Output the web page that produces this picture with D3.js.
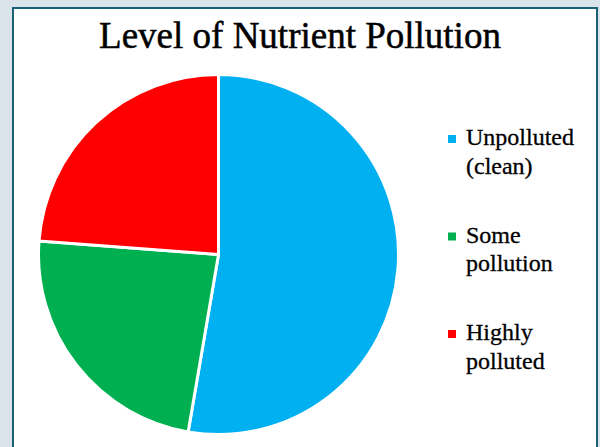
<!DOCTYPE html>
<html><head><meta charset="utf-8">
<script src="https://cdn.jsdelivr.net/npm/d3@7"></script>
<style>html,body{margin:0;padding:0;background:#dae4ea;}svg{display:block;}</style>
</head><body>
<script>
const categories = ["Unpolluted (clean)", "Some pollution", "Highly polluted"];
const legendLines = [["Unpolluted", "(clean)"], ["Some", "pollution"], ["Highly", "polluted"]];
const values = [52.7, 23.5, 23.8];
const colors = ["#00b0f0", "#00b050", "#ff0000"];
const title = "Level of Nutrient Pollution";

const W = 600, H = 447;
const svg = d3.select("body").append("svg").attr("width", W).attr("height", H);
svg.append("rect").attr("x", 0).attr("y", 0).attr("width", W).attr("height", H).attr("fill", "#dae4ea");
svg.append("rect").attr("x", 13).attr("y", 8).attr("width", 584).attr("height", 460)
  .attr("fill", "#ffffff").attr("stroke", "#1a6176").attr("stroke-width", 2);

svg.append("text").attr("x", 300).attr("y", 48).attr("text-anchor", "middle")
  .attr("font-family", "Liberation Serif, serif").attr("font-size", 37)
  .attr("fill", "#000").attr("stroke", "#000").attr("stroke-width", 0.5)
  .text(title);

const cx = 218.5, cy = 254.5, r = 180;
const pie = d3.pie().sort(null).value(d => d)(values);
const arc = d3.arc().innerRadius(0).outerRadius(r);
const g = svg.append("g").attr("transform", `translate(${cx},${cy})`);
g.selectAll("path").data(pie).join("path")
  .attr("d", arc).attr("fill", (d, i) => colors[i])
  .attr("stroke", "#fff").attr("stroke-width", 3).attr("stroke-linejoin", "round");

const legendY = d3.scalePoint().domain(categories).range([145, 340]);
const lg = svg.append("g");
categories.forEach((c, i) => {
  const y = legendY(c);
  lg.append("rect").attr("x", 448).attr("y", y - 10).attr("width", 8).attr("height", 8).attr("fill", colors[i]);
  const t = lg.append("text").attr("x", 466).attr("y", y)
    .attr("font-family", "Liberation Serif, serif").attr("font-size", 24)
    .attr("fill", "#000").attr("stroke", "#000").attr("stroke-width", 0.3);
  legendLines[i].forEach((ln, j) => {
    t.append("tspan").attr("x", 466).attr("dy", j === 0 ? 0 : 28.5).text(ln);
  });
});
</script>
</body></html>
